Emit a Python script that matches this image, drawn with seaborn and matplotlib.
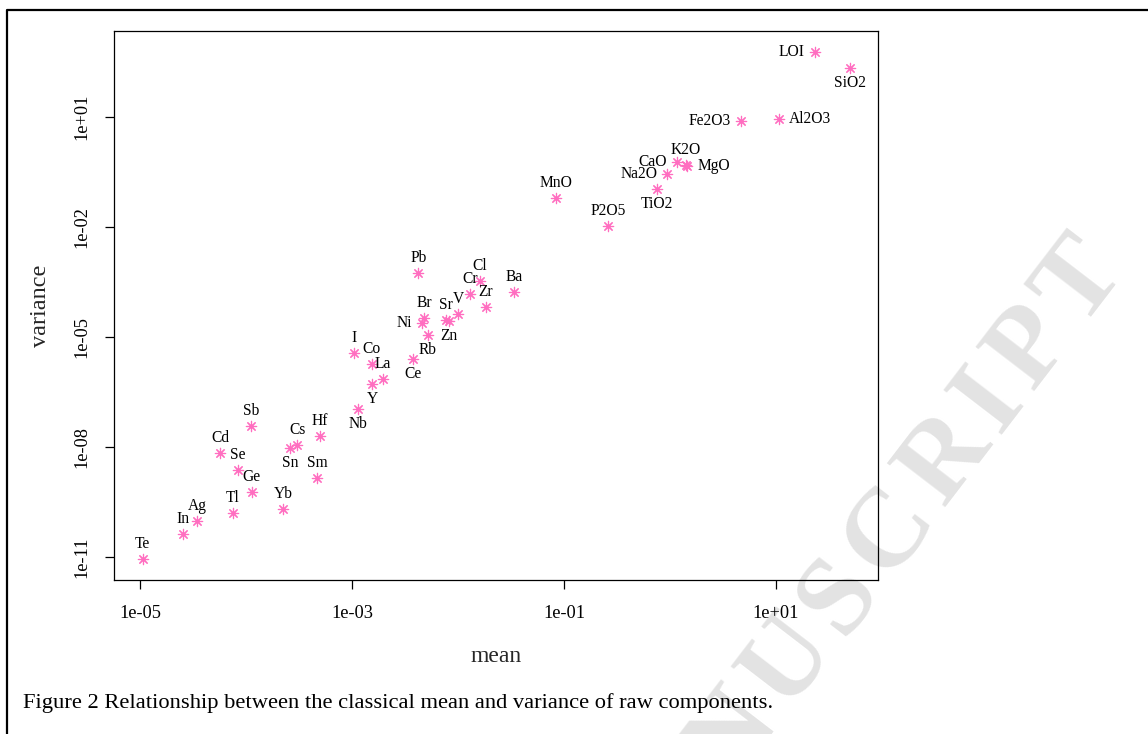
import numpy as np
import pandas as pd
import matplotlib
matplotlib.use("Agg")
import matplotlib.pyplot as plt
from matplotlib.lines import Line2D
import seaborn as sns

# Classical mean and variance of each raw component
components = ["Te", "In", "Ag", "Tl", "Yb", "Ge", "Se", "Cd", "Sb", "Sn",
              "Cs", "Hf", "Sm", "Nb", "Y", "La", "Co", "I", "Ce", "Rb",
              "Ni", "Br", "Sr", "Zn", "V", "Cr", "Cl", "Zr", "Ba", "Pb",
              "MnO", "P2O5", "TiO2", "Na2O", "CaO", "K2O", "MgO", "Fe2O3",
              "Al2O3", "LOI", "SiO2"]
means = [1.06e-05, 2.56e-05, 3.45e-05, 7.5e-05, 2.25e-04, 1.13e-04, 8.45e-05,
         5.7e-05, 1.11e-04, 2.6e-04, 3.05e-04, 4.99e-04, 4.71e-04, 1.15e-03,
         1.56e-03, 1.97e-03, 1.53e-03, 1.05e-03, 3.78e-03, 5.18e-03, 4.57e-03,
         4.78e-03, 7.7e-03, 8.28e-03, 1.01e-02, 1.30e-02, 1.61e-02, 1.84e-02,
         3.4e-02, 4.22e-03, 0.084, 0.262, 0.748, 0.944, 1.156, 1.40, 1.46,
         4.65, 10.7, 23.3, 49.9]
variances = [8.9e-12, 4.2e-11, 9.5e-11, 1.55e-10, 2.04e-10, 6.0e-10, 2.34e-09,
             6.8e-09, 3.7e-08, 9.3e-09, 1.17e-08, 2.04e-08, 1.41e-09, 1.10e-07,
             5.1e-07, 7.1e-07, 1.82e-06, 3.7e-06, 2.57e-06, 1.15e-05, 2.45e-05,
             3.4e-05, 3.0e-05, 2.75e-05, 4.2e-05, 1.48e-04, 3.4e-04, 6.5e-05,
             1.74e-04, 5.5e-04, 0.063, 0.0107, 0.107, 0.275, 0.582, 0.49, 0.447,
             7.94, 8.7, 603.0, 214.0]
label_sides = ["above", "above", "above", "above", "above", "above", "above",
               "above", "above", "below", "above", "above", "above", "below",
               "below", "above", "above", "above", "below", "below", "left",
               "above", "above", "below", "above", "above", "above", "above",
               "above", "above", "above", "above", "below", "left", "left",
               "above", "right", "left", "right", "left", "below"]

x_ticks = [1e-05, 1e-03, 1e-01, 1e+01]
x_tick_labels = ["1e-05", "1e-03", "1e-01", "1e+01"]
y_ticks = [1e-11, 1e-08, 1e-05, 1e-02, 1e+01]
y_tick_labels = ["1e-11", "1e-08", "1e-05", "1e-02", "1e+01"]

caption = "Figure 2 Relationship between the classical mean and variance of raw components."
watermark = "ACCEPTED MANUSCRIPT"

df = pd.DataFrame({"component": components, "mean": means,
                   "variance": variances, "side": label_sides})

sns.set_theme(style="ticks")
plt.rcParams["font.family"] = ["Liberation Serif", "DejaVu Serif"]

W, H = 1148, 734
fig = plt.figure(figsize=(W / 100, H / 100), dpi=100)
fig.patch.set_facecolor("white")

# Page watermark: letter-spaced bold serif text running up at an angle,
# laid out glyph by glyph backwards from the final letter.
bold_advance = {"A": .722, "C": .722, "E": .667, "P": .611, "T": .667,
                "D": .722, " ": .25, "M": .944, "N": .722, "U": .722,
                "S": .556, "R": .722, "I": .389}
em_px, track_px, angle = 112.0, 11.0, 52.5
end_x, end_y = 1103.0, 299.0           # baseline centre of the last glyph
ux, uy = np.cos(np.radians(angle)), -np.sin(np.radians(angle))
dist = 0.0
chars = list(watermark)
for k in range(len(chars) - 1, -1, -1):
    if k < len(chars) - 1:
        dist += (bold_advance[chars[k]] + bold_advance[chars[k + 1]]) / 2 * em_px + track_px
    if chars[k] == " ":
        continue
    px, py = end_x - dist * ux, end_y - dist * uy
    fig.text(px / W, 1 - py / H, chars[k], rotation=angle, rotation_mode="anchor",
             ha="center", va="baseline", fontsize=em_px * 0.72,
             fontweight="bold", color="#e3e3e3", zorder=-1)

# page frame (left and top edges)
fig.add_artist(Line2D([7 / W, 7 / W, 1.0], [0.0, 1 - 10 / H, 1 - 10 / H],
                      transform=fig.transFigure, color="black", lw=1.6))

ax = fig.add_axes([114 / W, 1 - 580 / H, (878 - 114) / W, (580 - 31) / H])
ax.patch.set_alpha(0.0)

sns.scatterplot(data=df, x="mean", y="variance", marker=(8, 2, 0),
                color="#ff6ec0", s=55, linewidth=0.85, ax=ax, legend=False)

ax.set_xscale("log")
ax.set_yscale("log")
ax.set_xlim(10 ** -5.245, 10 ** 1.962)
ax.set_ylim(10 ** -11.627, 10 ** 3.345)
ax.minorticks_off()
ax.set_xticks(x_ticks)
ax.set_xticklabels(x_tick_labels)
ax.set_yticks(y_ticks)
ax.set_yticklabels(y_tick_labels, rotation=90, va="center")

for sp in ax.spines.values():
    sp.set_visible(True)
    sp.set_color("black")
    sp.set_linewidth(0.9)

ax.tick_params(axis="both", direction="out", length=6.8, width=0.9,
               color="black", labelsize=13.2, labelcolor="black")
ax.tick_params(axis="x", pad=11)
ax.tick_params(axis="y", pad=10)

ax.set_xlabel("mean", fontsize=17, va="center")
ax.set_ylabel("variance", fontsize=17.5, va="center")
ax.xaxis.set_label_coords(0.5, -(657 - 580) / 549)
ax.yaxis.set_label_coords(-(114 - 40) / 764, 0.5)

# component names placed beside their points
offsets = {"above": (0, 15, "center", "center"),
           "below": (0, -15, "center", "center"),
           "left": (-10, 0, "right", "center"),
           "right": (10, 0, "left", "center")}
for name, mx, vy, side in zip(components, means, variances, label_sides):
    dx, dy, ha, va = offsets[side]
    ax.annotate(name, (mx, vy), xytext=(dx, dy), textcoords="offset pixels",
                ha=ha, va=va, fontsize=11.2, color="black")

fig.text(23 / W, 1 - 703 / H, caption, ha="left", va="center",
         fontsize=16.2, color="black")

fig.savefig("out.png", dpi=100, facecolor="white")
